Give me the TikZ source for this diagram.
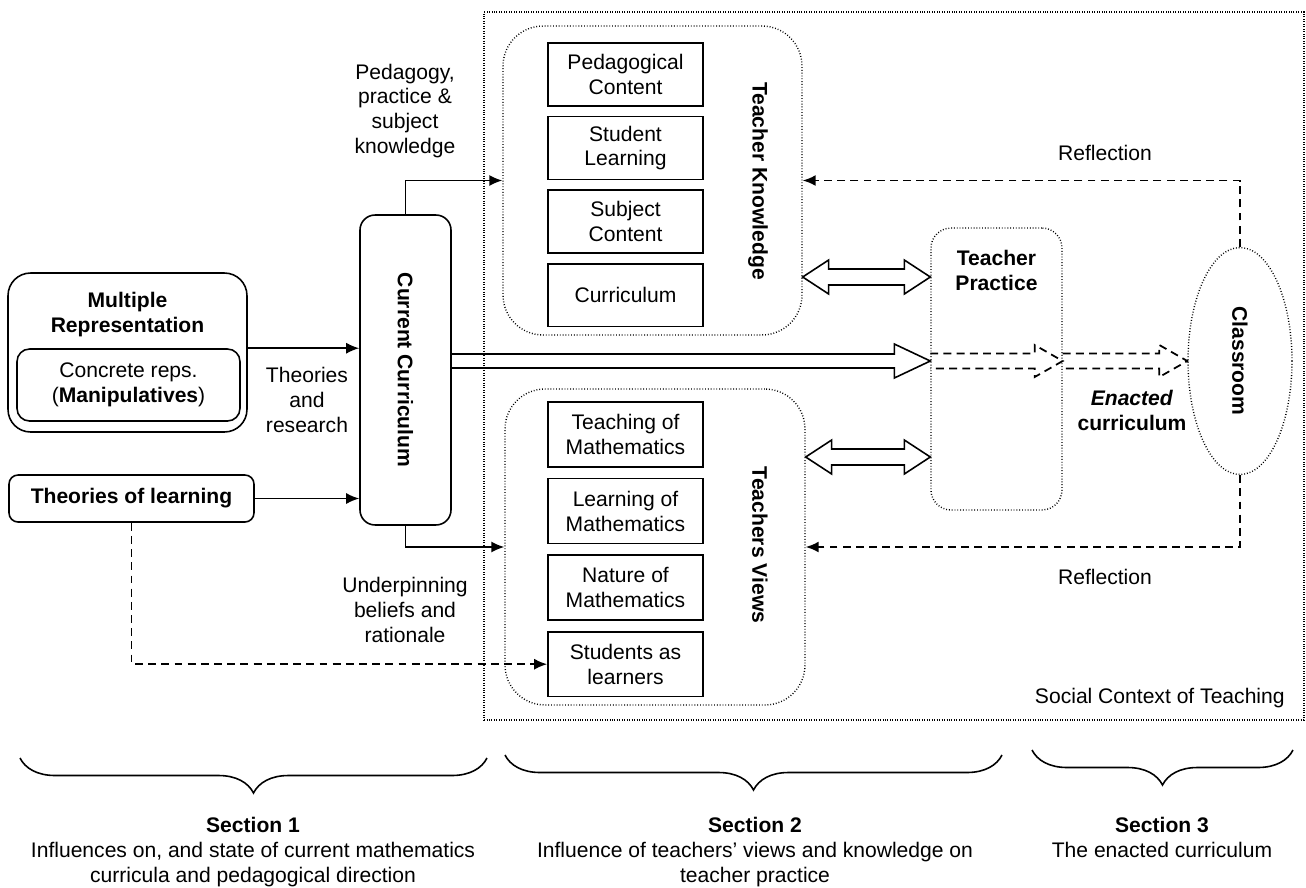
\documentclass[tikz,border=0pt]{standalone}
\usepackage{fontspec}
\setmainfont{Liberation Sans}
\usepackage{tikz}
\usetikzlibrary{positioning,calc,arrows.meta,shapes.geometric,decorations.pathreplacing}

\tikzset{
  box/.style={draw, line width=0.9pt, minimum width=3.1cm, align=center, inner sep=1pt},
  roundbox/.style={draw, line width=0.9pt, align=center, inner sep=0pt},
  dotbox/.style={draw, line width=0.8pt, dash pattern=on 0.5pt off 1.1pt, inner sep=0pt},
  arr/.style={line width=0.9pt, -{Latex[length=2.6mm,width=2.2mm]}},
  dasharr/.style={line width=1.1pt, dash pattern=on 4.5pt off 3pt, -{Latex[length=2.6mm,width=2.2mm]}},
  fat/.style n args={3}{line width=0.9pt, to path={
    let \p1=(\tikztostart), \p2=(\tikztotarget) in
    (\x1,\y1+#2) -- (\x2-#1,\y1+#2) -- (\x2-#1,\y1+#3) -- (\x2,\y1)
    -- (\x2-#1,\y1-#3) -- (\x2-#1,\y1-#2) -- (\x1,\y1-#2)}},
  fatboth/.style n args={3}{line width=0.9pt, to path={
    let \p1=(\tikztostart), \p2=(\tikztotarget) in
    (\x1,\y1) -- (\x1+#1,\y1+#3) -- (\x1+#1,\y1+#2) -- (\x2-#1,\y1+#2)
    -- (\x2-#1,\y1+#3) -- (\x2,\y1) -- (\x2-#1,\y1-#3) -- (\x2-#1,\y1-#2)
    -- (\x1+#1,\y1-#2) -- (\x1+#1,\y1-#3) -- cycle}},
  dashfat/.style={fat={0.56cm}{0.15cm}{0.32cm}, line width=1pt, dash pattern=on 4.5pt off 3pt},
  brc/.style={decorate, decoration={brace, mirror, amplitude=0.7cm}, line width=0.9pt}
}

\begin{document}
\fontsize{12}{14.2}\selectfont
\begin{tikzpicture}[x=0.02cm, y=-0.02cm]
  \useasboundingbox (0,0) rectangle (1306,887);

  % social context
  \node[dotbox, dash pattern=on 0.5pt off 0.9pt, minimum width=16.4cm, minimum height=14.16cm] (ctx) at (894,366) {};
  \node[anchor=east] (ctxlab) at (1292,698) {Social Context of Teaching};

  % section 1
  \node[roundbox, rounded corners=0.45cm, minimum width=4.78cm, minimum height=3.18cm] (mr) at (127.5,352.5) {};
  \node[font=\bfseries, align=center] (mrtitle) at (127.5,315) {Multiple\\Representation};
  \node[roundbox, rounded corners=0.25cm, minimum width=4.46cm, minimum height=1.44cm] (cr) at (128.5,385) {Concrete reps.\\(\textbf{Manipulatives})};
  \node[roundbox, rounded corners=0.18cm, minimum width=4.9cm, minimum height=0.94cm, font=\bfseries] (tl) at (131.5,498.5) {Theories of learning};
  \node[roundbox, rounded corners=0.3cm, minimum width=1.82cm, minimum height=6.2cm] (cc) at (405.5,370) {\rotatebox{-90}{\bfseries Current Curriculum}};

  % teacher knowledge
  \node[dotbox, rounded corners=0.8cm, minimum width=5.98cm, minimum height=6.18cm] (tk) at (652.5,180.5) {};
  \node[rotate=-90, font=\bfseries] (tklab) at (758,181) {Teacher Knowledge};
  \node[box, minimum height=1.26cm] (pc) at (625.5,74.5) {Pedagogical\\Content};
  \node[box, minimum height=1.26cm, below=0.18cm of pc] (sl) {Student\\Learning};
  \node[box, minimum height=1.26cm, below=0.18cm of sl] (sc) {Subject\\Content};
  \node[box, minimum height=1.26cm, below=0.18cm of sc] (cur) {Curriculum};

  % teachers views
  \node[dotbox, rounded corners=0.8cm, minimum width=6cm, minimum height=6.32cm] (tv) at (655,547) {};
  \node[rotate=-90, font=\bfseries] (tvlab) at (760,545) {Teachers Views};
  \node[box, minimum height=1.3cm] (tm) at (625.5,434.5) {Teaching of\\Mathematics};
  \node[box, minimum height=1.3cm, below=0.2cm of tm] (lm) {Learning of\\Mathematics};
  \node[box, minimum height=1.3cm, below=0.2cm of lm] (nm) {Nature of\\Mathematics};
  \node[box, minimum height=1.3cm, below=0.2cm of nm] (sal) {Students as\\learners};

  % teacher practice and classroom
  \node[dotbox, rounded corners=0.4cm, minimum width=2.62cm, minimum height=5.64cm] (tp) at (996.5,369) {};
  \node[font=\bfseries, align=center] (tplab) at (996.5,270) {Teacher\\Practice};
  \node[dotbox, ellipse, minimum width=2.08cm, minimum height=4.54cm] (cl) at (1240,361) {\rotatebox{-90}{\bfseries Classroom}};

  % labels
  \node[align=center] (lbped) at (405,111) {Pedagogy,\\practice \&\\subject\\knowledge};
  \node[align=center] (lbtheo) at (307,400) {Theories\\and\\research};
  \node[align=center] (lbund) at (405,610) {Underpinning\\beliefs and\\rationale};
  \node (lbrefa) at (1105,153) {Reflection};
  \node (lbrefb) at (1105,577) {Reflection};
  \node[align=center, font=\bfseries] (lbenact) at (1132,410) {\textit{Enacted}\\curriculum};

  % connectors
  \draw[arr] (mr.east |- cr.north) -- (cc.west |- cr.north);
  \draw[arr] (tl.east) -- (tl.east -| cc.west);
  \draw[arr] (cc.north) |- (tk.west);
  \draw[arr] (cc.south) |- (tv.west);
  \draw[dasharr] (tl.south) |- (sal.west);
  \draw[fat={0.72cm}{0.14cm}{0.34cm}] (cc.east |- cl) to (tp.west |- cl);
  \draw[dashfat] (tp.west |- cl) to (tp.east |- cl);
  \draw[dashfat] (tp.east |- cl) to (cl.west);
  \draw[fatboth={0.52cm}{0.16cm}{0.34cm}] (tk.east |- 0,277) to (tp.west |- 0,277);
  \draw[fatboth={0.52cm}{0.16cm}{0.34cm}] (tv.east |- 0,457) to (tp.west |- 0,457);
  \draw[dasharr] (cl.north) |- (tk.east);
  \draw[dasharr] (cl.south) |- (tv.east);

  % sections
  \draw[brc] (20,758) -- (487,758);
  \draw[brc] (505,755) -- (1002,755);
  \draw[brc] (1032,750) -- (1293,750);
  \node[align=center, anchor=north] (sec1) at (253,810) {\textbf{Section 1}\\Influences on, and state of current mathematics\\curricula and pedagogical direction};
  \node[align=center, anchor=north] (sec2) at (755,810) {\textbf{Section 2}\\Influence of teachers’ views and knowledge on\\teacher practice};
  \node[align=center, anchor=north] (sec3) at (1162,810) {\textbf{Section 3}\\The enacted curriculum};
\end{tikzpicture}
\end{document}
